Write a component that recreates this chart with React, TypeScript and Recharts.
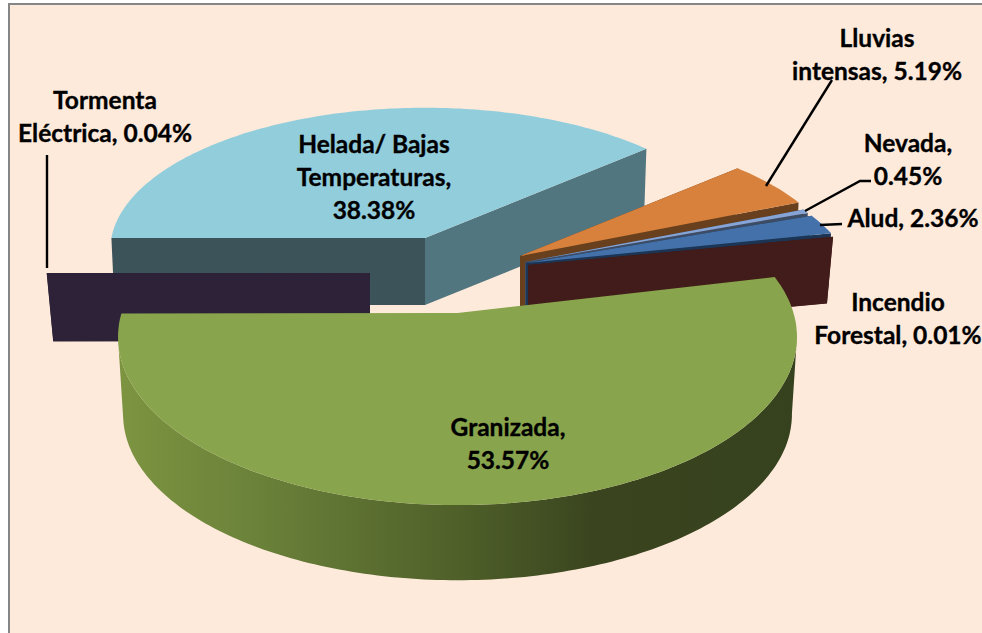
import React from 'react';
import { PieChart, Pie } from 'recharts';

const categories = ['Helada/ Bajas Temperaturas', 'Lluvias intensas', 'Nevada', 'Alud', 'Incendio Forestal', 'Granizada', 'Tormenta Eléctrica'];
const percentages = [38.38, 5.19, 0.45, 2.36, 0.01, 53.57, 0.04];
const labelBreaks = [[2, 3], [1], [1], [], [1], [1], [1]];

const data = categories.map((name, i) => ({ name, value: percentages[i] }));

const CX = 440, CY = 260, RADIUS = 320;

// Per-slice 3D presentation: explosion offset, radius factor, tilt, perspective, extrusion, colours
const looks = [
  { dx: -15, dy: -22, rf: 0.98, tilt: 0.45, D: 12, depth: 67, b: 0.99, top: '#92cddc', wallA: '#3d535a', wallB: '#527680' },
  { dx: 80, dy: -4, rf: 1.0, tilt: 0.45, D: 7, depth: 52, b: 0.99, top: '#d8813c', wallA: '#68401e', wallB: '#68401e' },
  { dx: 85, dy: 2, rf: 1.0, tilt: 0.44, D: 7, depth: 52, b: 0.99, top: '#86a4d6', wallA: '#3e4c63', wallB: '#3e4c63' },
  { dx: 86, dy: 3, rf: 1.01, tilt: 0.42, D: 7, depth: 56, b: 0.99, top: '#4471a9', wallA: '#1c3554', wallB: '#1c3554' },
  { dx: 88, dy: 5, rf: 1.01, tilt: 0.4, D: 7, depth: 66, b: 0.98, top: '#421c1a', wallA: '#421c1a', wallB: '#421c1a' },
  { dx: 17.5, dy: 53, rf: 1.05, tilt: 0.49, D: 7, depth: 78, b: 0.985, top: '#88a44c', wallA: '#88a44c', wallB: '#88a44c' },
  { dx: -70, dy: 13, rf: 1.01, tilt: 0.47, D: 7, depth: 68, b: 0.98, top: '#2d2238', wallA: '#2d2238', wallB: '#2d2238' },
];

const labelSpots = [
  { x: 374, y: 143 }, { x: 877, y: 37 }, { x: 908, y: 142 }, { x: 913, y: 217 },
  { x: 898, y: 301 }, { x: 508, y: 426 }, { x: 105, y: 99 },
];
const leaders: (number[][] | null)[] = [
  null,
  [[766, 186], [832, 80]],
  [[805, 211], [860, 181], [871, 181]],
  [[820, 225], [842, 224]],
  null,
  null,
  [[47, 268], [47, 155]],
];

function rim(look: any, r: number, deg: number) {
  const t = (deg * Math.PI) / 180;
  const s = Math.sin(t);
  const p = look.D / (look.D + s);
  const R = r * look.rf;
  return { x: R * Math.cos(t) * p, y: -R * look.tilt * s * p };
}

function poly(pts: { x: number; y: number }[]) {
  return 'M' + pts.map((q) => `${q.x.toFixed(1)},${q.y.toFixed(1)}`).join('L') + 'Z';
}

function Slice3D(props: any) {
  const { cx, cy, outerRadius, startAngle, endAngle } = props;
  const name = props.name ?? props.payload?.name;
  const look = looks[categories.indexOf(name)];
  const ax = cx + look.dx, ay = cy + look.dy;
  const top = (q: { x: number; y: number }) => ({ x: ax + q.x, y: ay + q.y });
  const bottom = (q: { x: number; y: number }) => ({ x: ax + q.x * look.b, y: ay + q.y * look.b + look.depth });
  const hi = Math.max(startAngle, endAngle), lo = Math.min(startAngle, endAngle);
  const degs: number[] = [];
  for (let d = hi; d > lo; d -= 1) degs.push(d);
  degs.push(lo);
  const arc = degs.map((d) => rim(look, outerRadius, d));
  const apex = { x: ax, y: ay };
  const apexB = { x: ax, y: ay + look.depth };
  const first = arc[0], last = arc[arc.length - 1];
  const front = degs.map((d, i) => ({ d, q: arc[i] })).filter((e) => e.d < -8 && e.d > -172).map((e) => e.q);
  return (
    <g>
      {front.length === 0 && <path d={poly([apex, top(first), bottom(first), apexB])} fill={look.wallA} />}
      {front.length === 0 && <path d={poly([apex, top(last), bottom(last), apexB])} fill={look.wallB} />}
      {front.length > 1 && (
        <path d={poly([...front.map(top), ...[...front].reverse().map(bottom)])} fill="url(#granizadaWall)" />
      )}
      <path d={poly([apex, ...arc.map(top)])} fill={look.top} />
    </g>
  );
}

function HiddenSlice() {
  return <g />;
}

function backShape(props: any) {
  const name = props.name ?? props.payload?.name;
  return name === 'Granizada' ? <HiddenSlice /> : <Slice3D {...props} />;
}
function frontShape(props: any) {
  const name = props.name ?? props.payload?.name;
  return name === 'Granizada' ? <Slice3D {...props} /> : <HiddenSlice />;
}

function SliceLabel(props: any) {
  const i = categories.indexOf(props.name ?? props.payload?.name);
  const words = `${categories[i]}, ${percentages[i].toFixed(2)}%`.split(' ');
  const cuts = [0, ...labelBreaks[i], words.length];
  const lines = cuts.slice(0, -1).map((c, k) => words.slice(c, cuts[k + 1]).join(' '));
  const spot = labelSpots[i];
  const lead = leaders[i];
  return (
    <g>
      {lead && <polyline points={lead.map((q) => q.join(',')).join(' ')} fill="none" stroke="#000" strokeWidth={2.4} />}
      {lines.map((line, k) => (
        <text key={k} x={spot.x} y={spot.y + k * 33} textAnchor="middle" dominantBaseline="central"
          fontFamily="Lato, sans-serif" fontWeight={700} fontSize={24.5} fill="#000" stroke="#000" strokeWidth={0.35}>{line}</text>
      ))}
    </g>
  );
}

export default function App() {
  return (
    <div style={{ position: 'absolute', left: 0, top: 0, width: 982, height: 633, overflow: 'hidden', background: '#fff' }}>
      <div style={{ position: 'absolute', left: 8, top: 3, width: 990, height: 650, boxSizing: 'border-box', border: '2px solid #868686', background: '#fdeadb' }} />
      <div style={{ position: 'absolute', left: 0, top: 0 }}>
        <PieChart width={982} height={633} margin={{ top: 0, right: 0, bottom: 0, left: 0 }} style={{ overflow: 'visible' }}>
          <defs>
            <linearGradient id="granizadaWall" gradientUnits="userSpaceOnUse" x1={118} y1={0} x2={797} y2={0}>
              <stop offset="0" stopColor="#7d9441" />
              <stop offset="0.2" stopColor="#6b823a" />
              <stop offset="0.5" stopColor="#4f6029" />
              <stop offset="0.7" stopColor="#3a451f" />
              <stop offset="1" stopColor="#36411e" />
            </linearGradient>
          </defs>
          <Pie data={data} dataKey="value" nameKey="name" cx={CX} cy={CY} outerRadius={RADIUS} startAngle={180} endAngle={-180}
            stroke="none" isAnimationActive={false} label={false} labelLine={false} shape={backShape} />
          <Pie data={data} dataKey="value" nameKey="name" cx={CX} cy={CY} outerRadius={RADIUS} startAngle={180} endAngle={-180}
            stroke="none" isAnimationActive={false} label={(p: any) => <SliceLabel {...p} />} labelLine={false} shape={frontShape} />
        </PieChart>
      </div>
    </div>
  );
}
